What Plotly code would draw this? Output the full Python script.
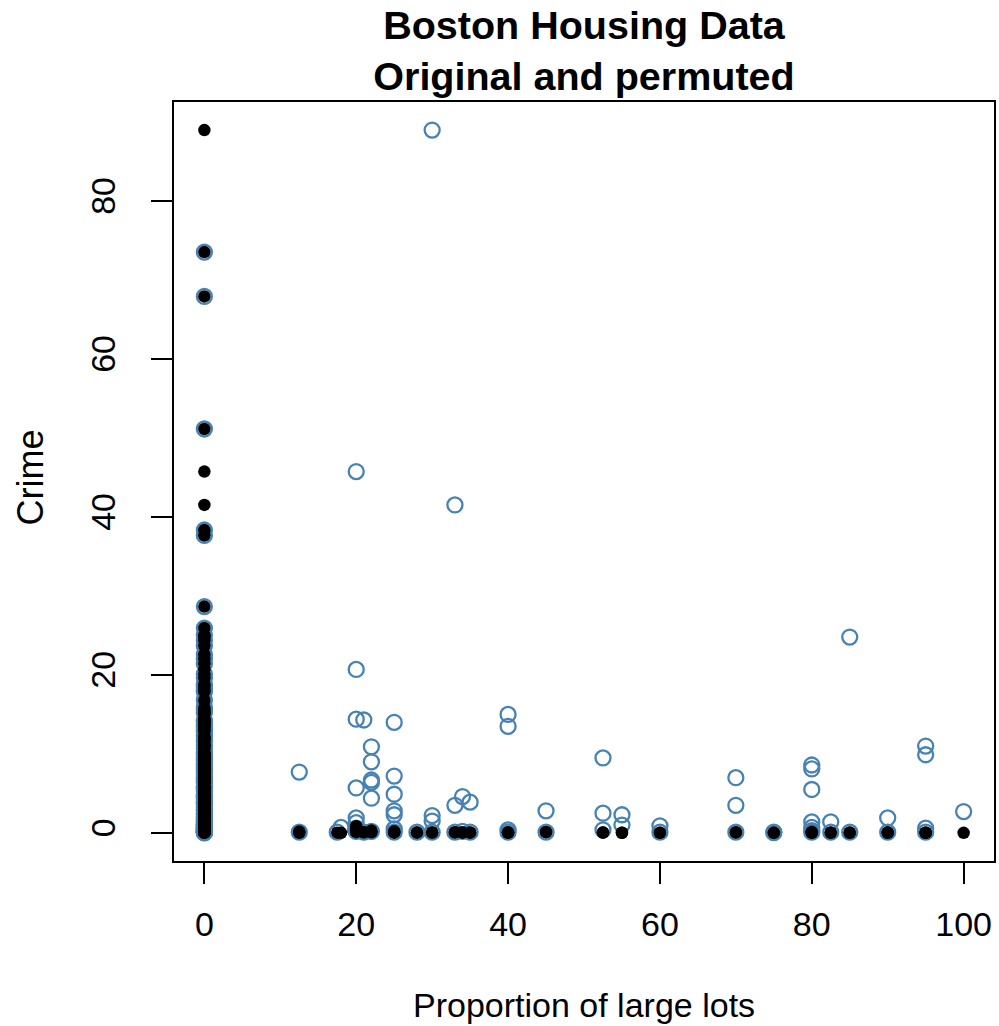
import plotly.graph_objects as go

# ---------------- data ----------------
# Original data: crime rate for suburbs with zn = 0
orig_zn0_crim = [
    0.02, 0.03, 0.05, 0.06, 0.08, 0.09, 0.10, 0.13, 0.15, 0.17, 0.20, 0.22, 0.25, 0.27,
    0.30, 0.33, 0.37, 0.40, 0.45, 0.50, 0.54, 0.60, 0.63, 0.67, 0.72, 0.77, 0.80, 0.84,
    0.88, 0.95, 0.98, 1.00, 1.05, 1.13, 1.19, 1.23, 1.25, 1.27, 1.34, 1.39, 1.41, 1.46,
    1.50, 1.52, 1.61, 1.63, 1.80, 1.83, 2.01, 2.15, 2.24, 2.33, 2.37, 2.45, 2.73, 2.78,
    2.82, 2.92, 3.16, 3.32, 3.47, 3.54, 3.57, 3.67, 3.70, 3.77, 3.84, 3.85, 4.04, 4.10,
    4.22, 4.26, 4.35, 4.42, 4.54, 4.56, 4.65, 4.67, 4.75, 4.81, 4.84, 4.87, 4.90, 5.20,
    5.29, 5.44, 5.58, 5.67, 5.69, 5.71, 5.73, 5.82, 5.87, 6.29, 6.39, 6.44, 6.54, 6.65,
    6.72, 6.80, 6.96, 7.02, 7.05, 7.37, 7.40, 7.53, 7.67, 7.75, 7.84, 7.99, 8.06, 8.15,
    8.20, 8.25, 8.27, 8.49, 8.64, 8.72, 8.79, 8.98, 9.19, 9.23, 9.34, 9.39, 9.51, 9.60,
    9.72, 9.82, 9.92, 9.97, 10.06, 10.23, 10.67, 10.83, 11.09, 11.11, 11.16, 11.58,
    11.81, 11.95, 12.05, 12.25, 12.80, 13.08, 13.36, 13.52, 13.68, 13.91, 14.05, 14.24,
    14.33, 14.42, 15.02, 15.18, 15.29, 15.58, 15.86, 16.81, 17.87, 18.08, 18.50, 18.81,
    19.61, 20.08, 20.72, 21.40, 22.05, 22.60, 23.65, 24.39, 24.80, 25.05, 25.94, 28.66,
    37.66, 38.35, 41.53, 45.75, 51.14, 67.92, 73.53, 88.98,
]
# Original data: suburbs with zn > 0
orig_zn_nz = [
    12.5, 12.5, 12.5, 17.5, 18, 20, 20, 20, 20, 21, 21, 22, 22, 22, 25, 25, 25,
    28, 28, 30, 30, 33, 33, 34, 34, 35, 35, 40, 40, 40, 45, 45, 52.5, 52.5, 55, 55,
    60, 60, 70, 70, 75, 75, 80, 80, 80, 80, 82.5, 82.5, 85, 85, 90, 90, 90,
    95, 95, 95, 100,
]
orig_crim_nz = [
    0.02, 0.09, 0.17, 0.03, 0.01, 0.10, 0.35, 0.60, 0.85, 0.04, 0.10, 0.08, 0.20, 0.30,
    0.03, 0.10, 0.20, 0.04, 0.07, 0.04, 0.06, 0.05, 0.10, 0.04, 0.07, 0.03, 0.06,
    0.02, 0.05, 0.10, 0.09, 0.12, 0.04, 0.06, 0.01, 0.02, 0.01, 0.03, 0.05, 0.09,
    0.01, 0.04, 0.01, 0.04, 0.07, 0.14, 0.02, 0.04, 0.02, 0.04, 0.01, 0.06, 0.04,
    0.01, 0.02, 0.03, 0.01,
]

# Permuted crime values: those that fell on zn = 0
perm_zn0_crim = [
    0.02, 0.04, 0.06, 0.09, 0.12, 0.16, 0.21, 0.26, 0.32, 0.38, 0.44, 0.52, 0.58, 0.66,
    0.74, 0.82, 0.90, 0.99, 1.08, 1.20, 1.31, 1.42, 1.55, 1.70, 1.86, 2.05, 2.28, 2.45,
    2.76, 2.90, 3.20, 3.50, 3.68, 3.82, 4.08, 4.30, 4.55, 4.72, 4.85, 5.25, 5.50, 5.70,
    5.85, 6.35, 6.60, 6.85, 7.04, 7.40, 7.70, 7.95, 8.22, 8.50, 8.78, 9.20, 9.40, 9.65,
    9.90, 10.15, 10.70, 11.10, 11.60, 11.95, 12.30, 12.80, 13.10, 13.40, 13.70, 14.05,
    14.25, 15.20, 15.60, 15.90, 16.80, 17.85, 18.10, 18.50, 18.80, 19.60, 20.10, 21.40,
    22.05, 22.60, 23.65, 24.39, 25.05, 25.94, 28.66, 37.66, 38.35, 51.14, 67.92, 73.53,
]
# Permuted crime values: those that fell on zn > 0
perm_zn_nz = [
    12.5, 12.5, 17.5, 18, 20, 20, 20, 20, 20, 20, 20, 20, 21, 21,
    22, 22, 22, 22, 22, 22, 25, 25, 25, 25, 25, 25, 25, 28, 30, 30, 30, 30,
    33, 33, 33, 34, 34, 35, 35, 40, 40, 40, 40, 45, 45, 52.5, 52.5, 52.5, 55, 55,
    60, 60, 70, 70, 70, 75, 75, 80, 80, 80, 80, 80, 80, 80, 82.5, 82.5, 85, 85,
    90, 90, 95, 95, 95, 95, 100,
]
perm_crim_nz = [
    7.7, 0.10, 0.10, 0.70, 45.75, 20.7, 14.4, 5.7, 1.9, 1.3, 0.6, 0.2, 14.3, 0.10,
    10.9, 9.0, 6.7, 6.4, 4.4, 0.2, 14.0, 7.2, 4.9, 2.8, 2.3, 0.5, 0.1, 0.1, 88.98, 2.2, 1.5, 0.1,
    41.53, 3.5, 0.1, 4.6, 0.2, 3.9, 0.1, 15.0, 13.5, 0.4, 0.1, 2.8, 0.1, 9.5, 2.5, 0.4, 2.3, 1.0,
    0.9, 0.1, 7.0, 3.5, 0.1, 0.05, 0.1, 8.6, 8.1, 5.5, 1.4, 0.7, 0.3, 0.1, 1.4, 0.1, 24.8, 0.1,
    1.9, 0.1, 11.0, 9.9, 0.6, 0.1, 2.7,
]

x_ticks = [0, 20, 40, 60, 80, 100]
y_ticks = [0, 20, 40, 60, 80]
title_lines = ["Boston Housing Data", "Original and permuted"]
x_label = "Proportion of large lots"
y_label = "Crime"

# ---------------- build ----------------
orig_x = [0] * len(orig_zn0_crim) + orig_zn_nz
orig_y = orig_zn0_crim + orig_crim_nz
perm_x = [0] * len(perm_zn0_crim) + perm_zn_nz
perm_y = perm_zn0_crim + perm_crim_nz

FONT = "Liberation Sans, Arial, Helvetica, sans-serif"

fig = go.Figure()
fig.add_trace(go.Scatter(
    x=perm_x, y=perm_y, mode="markers", name="Permuted",
    marker=dict(symbol="circle-open", size=15, color="#4682B4",
                line=dict(width=2.3, color="#4682B4")),
    hoverinfo="x+y",
))
fig.add_trace(go.Scatter(
    x=orig_x, y=orig_y, mode="markers", name="Original",
    marker=dict(symbol="circle", size=12.5, color="black", line=dict(width=0)),
    hoverinfo="x+y",
))

axis_common = dict(
    showgrid=False, zeroline=False, showline=True, linecolor="black", linewidth=2,
    mirror=True, ticks="outside", ticklen=21, tickwidth=2, tickcolor="black",
    tickfont=dict(family=FONT, size=34, color="black"),
)

fig.update_layout(
    width=999, height=1026,
    margin=dict(l=174, r=3, t=102, b=165, pad=0),
    paper_bgcolor="white", plot_bgcolor="white",
    showlegend=False,
    title=dict(
        text="<b>" + title_lines[0] + "</b><br><b>" + title_lines[1] + "</b>",
        font=dict(family=FONT, size=39.5, color="black"),
        x=0.5, xref="paper", xanchor="center",
        y=0.962, yref="container", yanchor="top",
    ),
    xaxis=dict(range=[-4, 104], tickvals=x_ticks, ticklabelstandoff=11, **axis_common),
    yaxis=dict(range=[-3.553, 92.535], tickvals=y_ticks, tickangle=-90,
               ticklabelstandoff=22, **axis_common),
    annotations=[
        dict(text=x_label, xref="paper", yref="paper", x=0.5, y=0,
             xanchor="center", yanchor="middle", yshift=-(1005 - 861),
             showarrow=False, font=dict(family=FONT, size=34, color="black")),
        dict(text=y_label, xref="paper", yref="paper", x=0, y=0.5,
             xanchor="center", yanchor="middle", xshift=-(174 - 30), yshift=4,
             textangle=-90, showarrow=False,
             font=dict(family=FONT, size=36, color="black")),
    ],
)

fig.write_html("out.html")
